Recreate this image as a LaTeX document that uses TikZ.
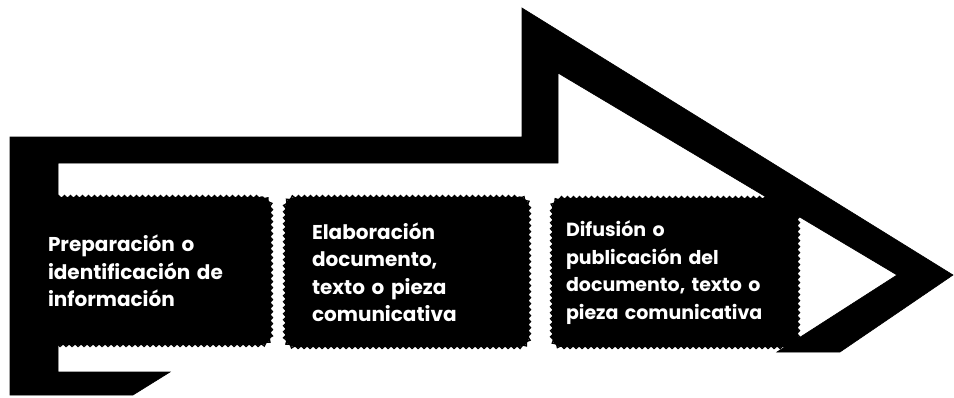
\documentclass[tikz,border=0pt]{standalone}
\usepackage{fontspec}
\setmainfont{Poppins}
\usetikzlibrary{decorations.pathmorphing}
\tikzset{
  arrowshape/.style={fill=black, draw=black, line width=0.6pt},
  stepbox/.style={fill=black, rounded corners=10pt,
    text=white, align=left, inner ysep=0pt,
    font=\fontsize{20}{27.5}\selectfont\bfseries,
    postaction={draw=black, line width=1.4pt, sharp corners, decorate,
      decoration={zigzag, segment length=6pt, amplitude=1.4pt}}},
}
\begin{document}
\begin{tikzpicture}[x=1pt, y=-1pt]
\useasboundingbox (0,0) rectangle (954,397);
% big outlined arrow
\draw[arrowshape] (10,137) coordinate (a1) -- (522,137) -- (522,8) coordinate (top)
  -- (953,275) coordinate (tip) -- (840,352) -- (777,352) -- (897,275) coordinate (notch)
  -- (558,73) -- (558,163) -- (58,163) -- (58,372) -- (170,372) -- (133,395) -- (10,395) -- cycle;
% step boxes
\node[stepbox, minimum width=241pt, minimum height=148pt, text width=205pt, inner xsep=18pt]
  (b1) at (150.5,271) {Preparación o\\identificación de\\información};
\node[stepbox, minimum width=244pt, minimum height=150pt, text width=190pt, inner xsep=27pt]
  (b2) at (407,272) {Elaboración\\documento,\\texto o pieza\\comunicativa};
\node[stepbox, minimum width=246pt, minimum height=149pt, text width=218pt, inner xsep=14pt,
  font=\fontsize{19}{27.5}\selectfont\bfseries]
  (b3) at (675,272.5) {Difusión o\\publicación del\\documento, texto o\\pieza comunicativa};
\end{tikzpicture}
\end{document}
